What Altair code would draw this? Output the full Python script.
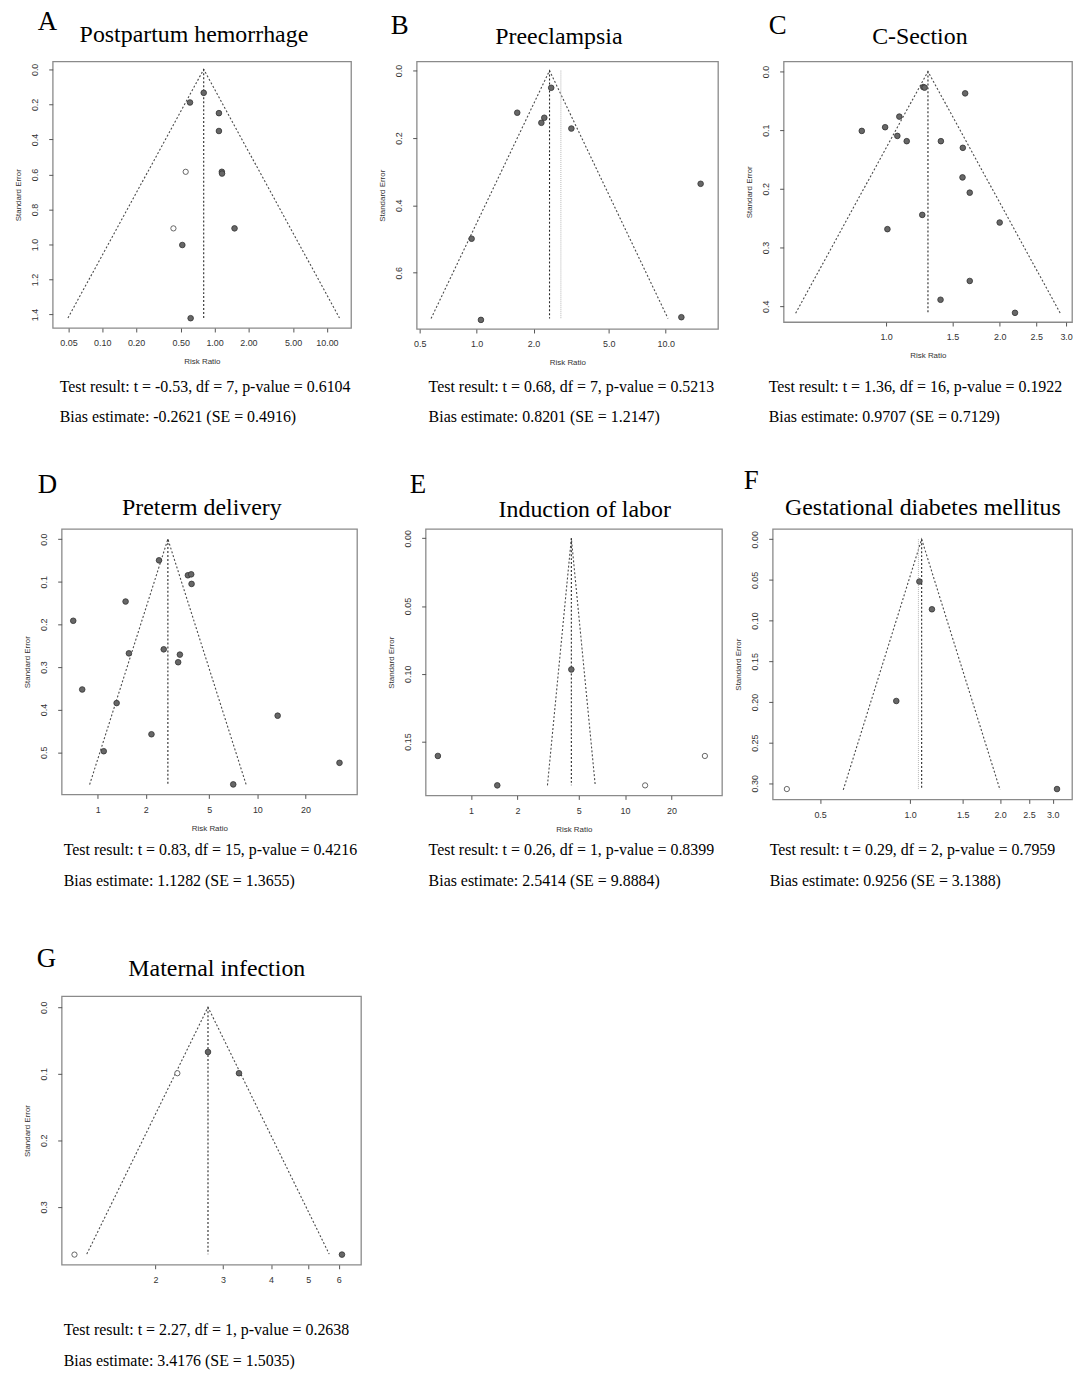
import altair as alt
import pandas as pd
import numpy as np

SERIF = "Liberation Serif"
SANS = "Liberation Sans"

# ---------------- data ----------------
# A  Postpartum hemorrhage
a_rr = [0.80, 0.604, 1.093, 1.093, 1.16, 1.165, 1.505, 0.516, 0.612, 0.553, 0.430]
a_se = [0.134, 0.189, 0.250, 0.352, 0.585, 0.595, 0.908, 1.003, 1.421, 0.585, 0.908]
a_imp = [0, 0, 0, 0, 0, 0, 0, 0, 0, 1, 1]
a_est, a_semax = 0.80, 1.42

# B  Preeclampsia
b_rr = [2.48, 1.64, 2.28, 2.20, 3.17, 15.3, 0.941, 1.054, 12.1]
b_se = [0.051, 0.125, 0.140, 0.155, 0.172, 0.336, 0.499, 0.740, 0.732]
b_imp = [0, 0, 0, 0, 0, 0, 0, 0, 0]
b_est, b_semax, b_est2 = 2.43, 0.736, 2.79

# C  C-Section
c_rr = [1.255, 1.265, 1.620, 1.084, 0.862, 0.994, 1.071, 1.134, 1.397, 1.597,
        1.594, 1.666, 1.247, 2.0, 1.008, 1.666, 1.394, 2.196]
c_se = [0.0266, 0.0275, 0.0373, 0.0769, 0.1013, 0.0950, 0.1098, 0.1188, 0.1188, 0.1301,
        0.1805, 0.2065, 0.2444, 0.2574, 0.2687, 0.357, 0.389, 0.4113]
c_imp = [0] * 18
c_est, c_semax = 1.291, 0.412

# D  Preterm delivery
d_rr = [2.42, 3.67, 3.85, 3.87, 1.494, 0.702, 2.59, 1.567, 3.27, 3.19, 0.799, 1.313,
        13.4, 2.17, 1.09, 32.7, 7.06]
d_se = [0.0498, 0.0849, 0.0826, 0.1051, 0.1464, 0.1916, 0.2586, 0.268, 0.2710, 0.2889,
        0.3528, 0.3847, 0.4143, 0.4579, 0.4977, 0.5249, 0.5755]
d_imp = [0] * 17
d_est, d_semax = 2.75, 0.576

# E  Induction of labor
e_rr = [4.48, 0.609, 1.48, 13.5, 33.0]
e_se = [0.0968, 0.1606, 0.1823, 0.1823, 0.1606]
e_imp = [0, 0, 0, 1, 1]
e_est, e_semax = 4.48, 0.1823

# F  Gestational diabetes mellitus
f_rr = [1.074, 1.183, 0.899, 3.10, 0.387]
f_se = [0.052, 0.0861, 0.1988, 0.307, 0.307]
f_imp = [0, 0, 0, 0, 1]
f_est, f_semax, f_est2 = 1.093, 0.308, 1.066

# G  Maternal infection
g_rr = [2.74, 3.30, 6.12, 2.28, 1.23]
g_se = [0.0673, 0.0992, 0.3717, 0.0992, 0.3717]
g_imp = [0, 0, 0, 1, 1]
g_est, g_semax = 2.74, 0.371

tests = [
    "Test result: t = -0.53, df = 7, p-value = 0.6104",
    "Test result: t = 0.68, df = 7, p-value = 0.5213",
    "Test result: t = 1.36, df = 16, p-value = 0.1922",
    "Test result: t = 0.83, df = 15, p-value = 0.4216",
    "Test result: t = 0.26, df = 1, p-value = 0.8399",
    "Test result: t = 0.29, df = 2, p-value = 0.7959",
    "Test result: t = 2.27, df = 1, p-value = 0.2638",
]
biases = [
    "Bias estimate: -0.2621 (SE = 0.4916)",
    "Bias estimate: 0.8201 (SE = 1.2147)",
    "Bias estimate: 0.9707 (SE = 0.7129)",
    "Bias estimate: 1.1282 (SE = 1.3655)",
    "Bias estimate: 2.5414 (SE = 9.8884)",
    "Bias estimate: 0.9256 (SE = 3.1388)",
    "Bias estimate: 3.4176 (SE = 1.5035)",
]


def txt(s, x, y, size, font=SERIF, align="left"):
    return alt.Chart(pd.DataFrame({"t": [s]})).mark_text(
        font=font, fontSize=size, align=align, baseline="alphabetic", color="#000"
    ).encode(x=alt.value(x), y=alt.value(y), text="t:N")


def marker(x, y):
    # tiny white rule (invisible on white) that fixes the panel's layout bounds
    return alt.Chart(pd.DataFrame({"m": [0]})).mark_rule(color="white", strokeWidth=2).encode(
        x=alt.value(x), x2=alt.value(x + 1), y=alt.value(y), y2=alt.value(y)
    )


def spacer():
    return (
        alt.Chart(pd.DataFrame({"m": [0]}))
        .mark_point(size=1, opacity=0)
        .encode(x=alt.value(0.5), y=alt.value(0.5))
        .properties(width=1, height=1,
                    view=alt.ViewBackground(strokeOpacity=0, strokeWidth=0))
    )


def panel(letter, title, rr, se, imp, est, semax, xdom, ydom, xticks, xfmt, yticks, yfmt,
          w, h, L, R, T, B, lpos, tpos, rpos, test, bias, xtitle=True, est2=None):
    xs = alt.Scale(type="log", domain=xdom, nice=False)
    ys = alt.Scale(domain=ydom, reverse=True, nice=False, zero=False)
    xax = alt.Axis(values=xticks, tickCount=len(xticks) + 5, format=xfmt,
                   labelFlush=False, labelOverlap=False)
    yax = alt.Axis(values=yticks, tickCount=len(yticks) + 5, format=yfmt, labelAngle=270,
                   labelAlign="center", labelBaseline="bottom", labelPadding=9,
                   titlePadding=8, labelOverlap=False, labelFlush=False)
    xenc = alt.X("rr:Q", scale=xs, axis=xax, title="Risk Ratio" if xtitle else None)
    yenc = alt.Y("se:Q", scale=ys, axis=yax, title="Standard Error")

    fl = pd.DataFrame({"rr": [est * np.exp(-1.96 * semax), est, est * np.exp(1.96 * semax)],
                       "se": [semax, 0.0, semax]})
    layers = [
        alt.Chart(fl).mark_line(strokeDash=[2, 2], color="#4a4a4a", strokeWidth=1.1)
        .encode(x=xenc, y=yenc)
    ]
    if est2 is not None:
        layers.append(
            alt.Chart(pd.DataFrame({"rr": [est2], "se": [0.0], "se2": [semax]}))
            .mark_rule(strokeDash=[1, 1], color="#b5b5b5", strokeWidth=1)
            .encode(x="rr:Q", y="se:Q", y2="se2:Q")
        )
    layers.append(
        alt.Chart(pd.DataFrame({"rr": [est], "se": [0.0], "se2": [semax]}))
        .mark_rule(strokeDash=[2, 2], color="#2a2a2a", strokeWidth=1.1)
        .encode(x="rr:Q", y="se:Q", y2="se2:Q")
    )
    pts = pd.DataFrame({"rr": rr, "se": se, "imp": imp})
    filled = pts[pts.imp == 0]
    opened = pts[pts.imp == 1]
    layers.append(
        alt.Chart(filled).mark_circle(size=32, color="#676767", stroke="#333",
                                      strokeWidth=0.8, opacity=1).encode(x="rr:Q", y="se:Q")
    )
    if len(opened):
        layers.append(
            alt.Chart(opened).mark_circle(size=28, fill="white", stroke="#555",
                                          strokeWidth=0.9, opacity=1).encode(x="rr:Q", y="se:Q")
        )
    layers += [
        txt(letter, lpos[0], lpos[1], 27),
        txt(title, tpos[0], tpos[1], 24, align="center"),
        txt(test, rpos[0], rpos[1], 16),
        txt(bias, rpos[0], rpos[1] + 31, 16),
        marker(-L + 1, -T + 1),
        marker(w + R - 2, B - 1),
    ]
    return alt.layer(*layers).properties(width=w, height=h)


# row 1 plot tops at y=61, row 2 at 529, row 3 at 997
A = panel("A", "Postpartum hemorrhage", a_rr, a_se, a_imp, a_est, a_semax,
          [0.0362, 16.4], [-0.045, 1.477], [0.05, 0.1, 0.2, 0.5, 1, 2, 5, 10], ".2f",
          [0, 0.2, 0.4, 0.6, 0.8, 1.0, 1.2, 1.4], ".1f",
          300, 268, 51, 18, 57, 389, (-15, -32), (142, -20), (7, 332), tests[0], biases[0])
B = panel("B", "Preeclampsia", b_rr, b_se, b_imp, b_est, b_semax,
          [0.482, 18.9], [-0.027, 0.767], [0.5, 1, 2, 5, 10], ".1f",
          [0, 0.2, 0.4, 0.6], ".1f",
          303, 269, 46, 16, 57, 389, (-26, -28), (143, -18), (12, 332), tests[1], biases[1],
          est2=b_est2)
C = panel("C", "C-Section", c_rr, c_se, c_imp, c_est, c_semax,
          [0.535, 3.11], [-0.017, 0.427], [1.0, 1.5, 2.0, 2.5, 3.0], ".1f",
          [0, 0.1, 0.2, 0.3, 0.4], ".1f",
          290, 262, 48, 2, 57, 389, (-15, -28), (137, -18), (-15, 332), tests[2], biases[2])
D = panel("D", "Preterm delivery", d_rr, d_se, d_imp, d_est, d_semax,
          [0.594, 42.1], [-0.024, 0.599], [1, 2, 5, 10, 20], "d",
          [0, 0.1, 0.2, 0.3, 0.4, 0.5], ".1f",
          297, 267, 60, 17, 79, 391, (-24, -36), (141, -14), (2, 328), tests[3], biases[3])
E = panel("E", "Induction of labor", e_rr, e_se, e_imp, e_est, e_semax,
          [0.507, 42.6], [-0.0069, 0.1897], [1, 2, 5, 10, 20], "d",
          [0, 0.05, 0.10, 0.15], ".2f",
          298, 268, 50, 5, 79, 391, (-16, -36), (160, -12), (3, 328), tests[4], biases[4])
F = panel("F", "Gestational diabetes mellitus", f_rr, f_se, f_imp, f_est, f_semax,
          [0.347, 3.48], [-0.0127, 0.3197], [0.5, 1.0, 1.5, 2.0, 2.5, 3.0], ".1f",
          [0, 0.05, 0.10, 0.15, 0.20, 0.25, 0.30], ".2f",
          301, 272, 44, 2, 79, 391, (-29, -40), (151, -14), (-3, 328), tests[5], biases[5],
          xtitle=False, est2=f_est2)
G = panel("G", "Maternal infection", g_rr, g_se, g_imp, g_est, g_semax,
          [1.139, 6.86], [-0.0164, 0.387], [2, 3, 4, 5, 6], "d",
          [0, 0.1, 0.2, 0.3], ".1f",
          301, 270, 60, 10, 77, 376, (-25, -29), (156, -20), (2, 341), tests[6], biases[6],
          xtitle=False)

row1 = alt.hconcat(spacer(), A, B, C, spacing=0)
row2 = alt.hconcat(spacer(), D, E, F, spacing=0)
row3 = alt.hconcat(spacer(), G, spacing=0)
chart = (
    alt.vconcat(row1, row2, row3, spacing=0)
    .properties(padding=0, background="white")
    .configure_view(stroke="#8a8a8a", strokeWidth=1.3)
    .configure_axis(
        domain=False, grid=False, tickSize=4, tickColor="#555", tickWidth=1,
        labelFont=SANS, labelFontSize=9, labelColor="#333", labelPadding=7,
        titleFont=SANS, titleFontSize=8, titleFontWeight="normal", titleColor="#333",
        titlePadding=10,
    )
)

chart.save("out.html", embed_options={"renderer": "svg", "actions": False})
